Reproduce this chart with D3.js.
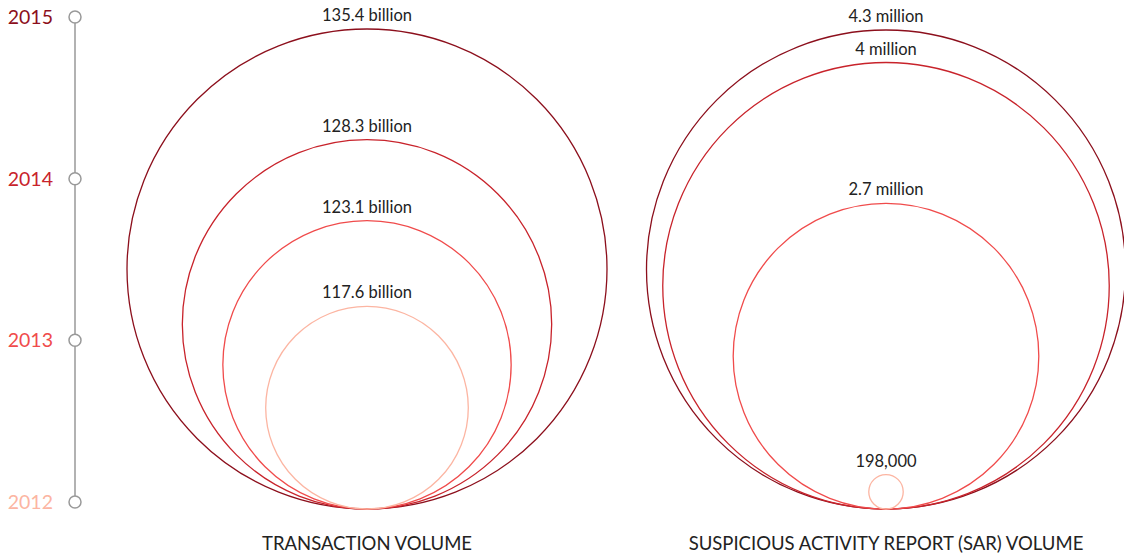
<!DOCTYPE html>
<html>
<head>
<meta charset="utf-8">
<script src="https://cdn.jsdelivr.net/npm/d3@7/dist/d3.min.js"></script>
<style>
  body { margin: 0; background: #fff; }
  text { font-family: Lato, "Open Sans", sans-serif; }
</style>
</head>
<body>
<svg width="1124" height="556"></svg>
<script>
(function() {
  'use strict';

// years, newest first
var years = ["2015", "2014", "2013", "2012"];
var yearColors = ["#8c0f1c", "#c8232b", "#f04b4b", "#fcb5a2"];

// transaction volume (billions)
var txValues = [135.4, 128.3, 123.1, 117.6];
var txLabels = ["135.4 billion", "128.3 billion", "123.1 billion", "117.6 billion"];

// SAR volume (millions)
var sarValues = [4.3, 4.0, 2.7, 0.198];
var sarLabels = ["4.3 million", "4 million", "2.7 million", "198,000"];

var panelTitles = ["TRANSACTION VOLUME", "SUSPICIOUS ACTIVITY REPORT (SAR) VOLUME"];

var svg = d3.select("svg");
var baseY = 509;

// timeline on the left
var yTime = d3.scalePoint().domain(years).range([17, 502]);
var tl = svg.append("g");
tl.append("line")
  .attr("x1", 75).attr("x2", 75)
  .attr("y1", yTime(years[0])).attr("y2", yTime(years[years.length - 1]))
  .attr("stroke", "#999").attr("stroke-width", 1.5);
tl.selectAll("circle").data(years).enter().append("circle")
  .attr("cx", 75).attr("cy", function(d) { return yTime(d); })
  .attr("r", 6)
  .attr("fill", "#fff").attr("stroke", "#999").attr("stroke-width", 1.5);
tl.selectAll("text").data(years).enter().append("text")
  .attr("x", 53).attr("y", function(d) { return yTime(d); })
  .attr("dy", "0.36em")
  .attr("text-anchor", "end")
  .attr("font-size", 19.5)
  .attr("fill", function(d, i) { return yearColors[i]; })
  .text(function(d) { return d; });

// radius scales (neither panel starts at zero)
var rTx = d3.scaleLinear().domain([104.6, 135.4]).range([0, 240]);
var rSar = d3.scaleLinear().domain([-0.12, 4.3]).range([0, 239.5]);

function panel(cx, values, labels, r, title) {
  var g = svg.append("g");
  var data = values.map(function(v, i) { return {v: v, label: labels[i], color: yearColors[i]}; });

  g.selectAll("circle").data(data).enter().append("circle")
    .attr("cx", cx)
    .attr("cy", function(d) { return baseY - r(d.v); })
    .attr("r", function(d) { return r(d.v); })
    .attr("fill", "none")
    .attr("stroke", function(d) { return d.color; })
    .attr("stroke-width", 1.3);

  g.selectAll("text.lbl").data(data).enter().append("text")
    .attr("class", "lbl")
    .attr("x", cx)
    .attr("y", function(d) { return baseY - 2 * r(d.v) - 8; })
    .attr("text-anchor", "middle")
    .attr("font-size", 16.5)
    .attr("fill", "#222")
    .text(function(d) { return d.label; });

  g.append("text")
    .attr("x", cx).attr("y", 550)
    .attr("text-anchor", "middle")
    .attr("font-size", 18.5)
    .attr("fill", "#222")
    .text(title);
}

panel(367, txValues, txLabels, rTx, panelTitles[0]);
panel(886, sarValues, sarLabels, rSar, panelTitles[1]);

})();
</script>
</body>
</html>
